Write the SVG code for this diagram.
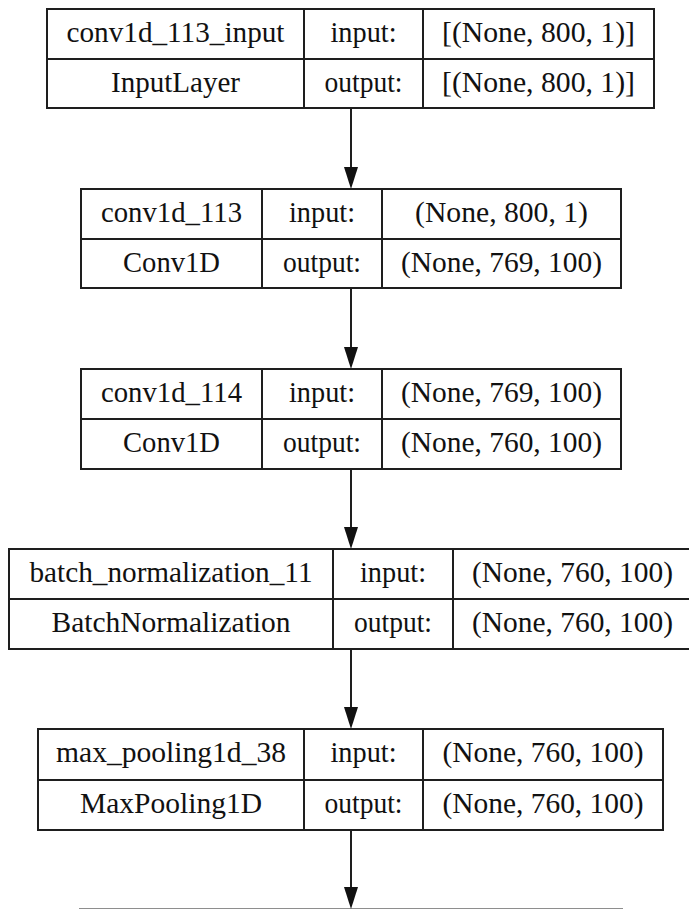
<svg xmlns="http://www.w3.org/2000/svg" width="689" height="909" viewBox="0 0 689 909">
<style>
.box{fill:#fff;stroke:#1e1e1e;stroke-width:2}
.ln{stroke:#1e1e1e;stroke-width:2;fill:none}
.t{font-family:Liberation Serif,DejaVu Serif,serif;font-size:29.5px;fill:#111;text-anchor:middle}
.edge{stroke:#1e1e1e;stroke-width:2;fill:none}
.head{fill:#111;stroke:none}
</style>
<rect width="689" height="909" fill="#fff"/>
<g id="connectors">
<line class="edge" x1="351" y1="108" x2="351" y2="168"/>
<polygon class="head" points="344,167 358,167 351,189"/>
<line class="edge" x1="351" y1="288" x2="351" y2="348"/>
<polygon class="head" points="344,347 358,347 351,369"/>
<line class="edge" x1="351" y1="469" x2="351" y2="528"/>
<polygon class="head" points="344,527 358,527 351,549"/>
<line class="edge" x1="351" y1="649" x2="351" y2="708"/>
<polygon class="head" points="344,707 358,707 351,729"/>
<line class="edge" x1="351" y1="830" x2="351" y2="888"/>
<polygon class="head" points="344,887 358,887 351,909"/>
</g>
<g id="node1">
<rect class="box" x="47" y="9" width="607" height="99"/>
<line class="ln" x1="47" y1="59" x2="654" y2="59"/>
<line class="ln" x1="304" y1="9" x2="304" y2="108"/>
<line class="ln" x1="423" y1="9" x2="423" y2="108"/>
<text class="t" font-family="Liberation Serif" x="175.5" y="42" textLength="218" lengthAdjust="spacingAndGlyphs">conv1d_113_input</text>
<text class="t" font-family="Liberation Serif" x="363.5" y="42" textLength="66" lengthAdjust="spacingAndGlyphs">input:</text>
<text class="t" font-family="Liberation Serif" x="538.5" y="42" textLength="193" lengthAdjust="spacingAndGlyphs">[(None, 800, 1)]</text>
<text class="t" font-family="Liberation Serif" x="175.5" y="92" textLength="129" lengthAdjust="spacingAndGlyphs">InputLayer</text>
<text class="t" font-family="Liberation Serif" x="363.5" y="92" textLength="78" lengthAdjust="spacingAndGlyphs">output:</text>
<text class="t" font-family="Liberation Serif" x="538.5" y="92" textLength="193" lengthAdjust="spacingAndGlyphs">[(None, 800, 1)]</text>
</g>
<g id="node2">
<rect class="box" x="81" y="189" width="540" height="99"/>
<line class="ln" x1="81" y1="239" x2="621" y2="239"/>
<line class="ln" x1="262" y1="189" x2="262" y2="288"/>
<line class="ln" x1="382" y1="189" x2="382" y2="288"/>
<text class="t" x="171.5" y="222" textLength="141" lengthAdjust="spacingAndGlyphs">conv1d_113</text>
<text class="t" x="322" y="222" textLength="66" lengthAdjust="spacingAndGlyphs">input:</text>
<text class="t" x="501.5" y="222" textLength="173" lengthAdjust="spacingAndGlyphs">(None, 800, 1)</text>
<text class="t" x="171.5" y="272" textLength="97" lengthAdjust="spacingAndGlyphs">Conv1D</text>
<text class="t" x="322" y="272" textLength="78" lengthAdjust="spacingAndGlyphs">output:</text>
<text class="t" x="501.5" y="272" textLength="201" lengthAdjust="spacingAndGlyphs">(None, 769, 100)</text>
</g>
<g id="node3">
<rect class="box" x="81" y="369" width="540" height="100"/>
<line class="ln" x1="81" y1="419" x2="621" y2="419"/>
<line class="ln" x1="262" y1="369" x2="262" y2="469"/>
<line class="ln" x1="382" y1="369" x2="382" y2="469"/>
<text class="t" x="171.5" y="402" textLength="141" lengthAdjust="spacingAndGlyphs">conv1d_114</text>
<text class="t" x="322" y="402" textLength="66" lengthAdjust="spacingAndGlyphs">input:</text>
<text class="t" x="501.5" y="402" textLength="201" lengthAdjust="spacingAndGlyphs">(None, 769, 100)</text>
<text class="t" x="171.5" y="452" textLength="97" lengthAdjust="spacingAndGlyphs">Conv1D</text>
<text class="t" x="322" y="452" textLength="78" lengthAdjust="spacingAndGlyphs">output:</text>
<text class="t" x="501.5" y="452" textLength="201" lengthAdjust="spacingAndGlyphs">(None, 760, 100)</text>
</g>
<g id="node4">
<rect class="box" x="9" y="549" width="683" height="100"/>
<line class="ln" x1="9" y1="599" x2="692" y2="599"/>
<line class="ln" x1="333" y1="549" x2="333" y2="649"/>
<line class="ln" x1="453" y1="549" x2="453" y2="649"/>
<text class="t" x="171" y="582" textLength="283" lengthAdjust="spacingAndGlyphs">batch_normalization_11</text>
<text class="t" x="393" y="582" textLength="66" lengthAdjust="spacingAndGlyphs">input:</text>
<text class="t" x="572.5" y="582" textLength="201" lengthAdjust="spacingAndGlyphs">(None, 760, 100)</text>
<text class="t" x="171" y="632" textLength="239" lengthAdjust="spacingAndGlyphs">BatchNormalization</text>
<text class="t" x="393" y="632" textLength="78" lengthAdjust="spacingAndGlyphs">output:</text>
<text class="t" x="572.5" y="632" textLength="201" lengthAdjust="spacingAndGlyphs">(None, 760, 100)</text>
</g>
<g id="node5">
<rect class="box" x="38" y="729" width="625" height="101"/>
<line class="ln" x1="38" y1="780" x2="663" y2="780"/>
<line class="ln" x1="304" y1="729" x2="304" y2="830"/>
<line class="ln" x1="423" y1="729" x2="423" y2="830"/>
<text class="t" x="171" y="762" textLength="230" lengthAdjust="spacingAndGlyphs">max_pooling1d_38</text>
<text class="t" x="363.5" y="762" textLength="66" lengthAdjust="spacingAndGlyphs">input:</text>
<text class="t" x="543" y="762" textLength="201" lengthAdjust="spacingAndGlyphs">(None, 760, 100)</text>
<text class="t" x="171" y="813" textLength="182" lengthAdjust="spacingAndGlyphs">MaxPooling1D</text>
<text class="t" x="363.5" y="813" textLength="78" lengthAdjust="spacingAndGlyphs">output:</text>
<text class="t" x="543" y="813" textLength="201" lengthAdjust="spacingAndGlyphs">(None, 760, 100)</text>
</g>
<g id="node6">
<rect class="box" x="80" y="909.5" width="542" height="100"/>
</g>
</svg>
